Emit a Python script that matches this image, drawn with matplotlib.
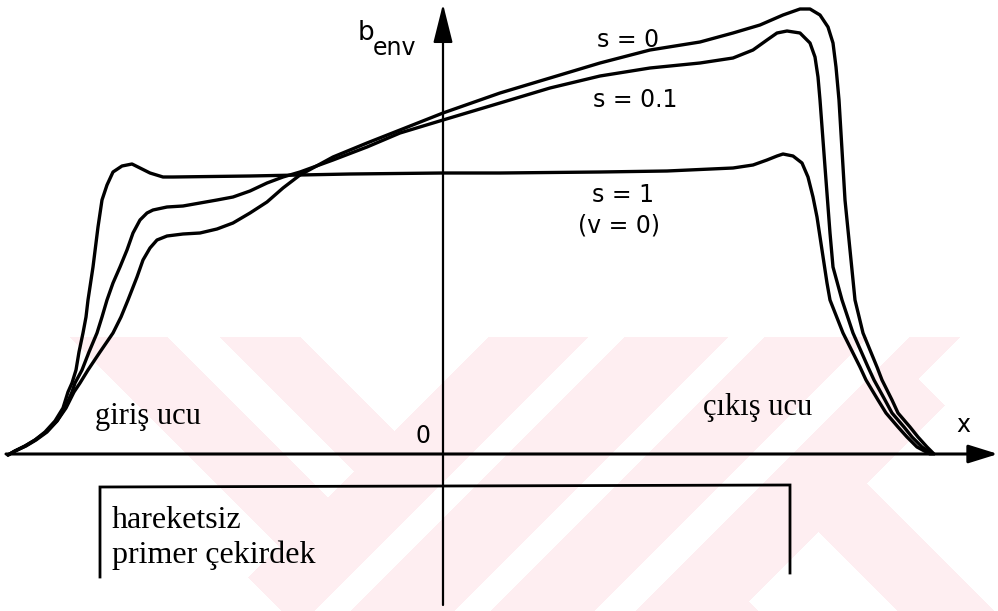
import matplotlib.pyplot as plt
import numpy as np

# envelope b_env along x for three slip values (origin at the axis crossing)
s0_x = [-435, -428, -418, -408, -397, -386, -377, -369, -363, -355, -343, -330, -322,
        -315, -306, -300, -293, -286, -276, -260, -243, -226, -210, -193, -176, -160,
        -143, -110, -76, -43, 0, 57, 107, 157, 207, 257, 290, 317, 340, 357, 367, 377,
        385, 390, 393, 396, 399, 402, 407, 412, 420, 434, 439, 449, 455, 467, 475, 484, 491]
s0_b = [0, 4, 9, 15, 23, 34, 47, 63, 72, 85, 103, 122, 138,
        155, 178, 195, 207, 215, 219, 221, 222, 226, 232, 242, 253, 267,
        280, 298, 312, 325, 342, 362, 377, 392, 405, 413, 422, 430, 440, 446, 446, 440,
        428, 412, 388, 355, 305, 255, 205, 155, 122, 88, 75, 55, 42, 28, 18, 8, 1]

s01_x = [-435, -428, -417, -407, -396, -386, -378, -371, -368, -361, -354, -346, -341,
         -336, -330, -323, -316, -310, -303, -296, -290, -276, -260, -243, -226, -210,
         -193, -176, -160, -143, -110, -76, -43, 0, 57, 107, 157, 207, 257, 290, 310,
         324, 334, 344, 357, 367, 372, 375, 377, 382, 387, 390, 399, 410, 425, 431, 442,
         449, 461, 469, 479, 489]
s01_b = [0, 4, 9, 15, 23, 34, 47, 63, 72, 85, 103, 122, 138,
         155, 172, 188, 205, 222, 235, 242, 245, 248, 249, 252, 255, 258,
         264, 272, 278, 283, 295, 308, 322, 335, 352, 367, 379, 387, 392, 397, 405,
         415, 422, 424, 422, 412, 398, 378, 355, 288, 222, 188, 155, 122, 88, 75, 55,
         42, 28, 18, 8, 1]

s1_x = [-435, -428, -418, -408, -398, -388, -380, -375, -371, -367, -364, -360, -357,
        -355, -350, -345, -341, -336, -330, -321, -311, -303, -293, -280, -270, -193,
        -93, 0, 57, 157, 224, 290, 310, 324, 334, 340, 350, 359, 365, 370, 374, 379,
        384, 387, 400, 417, 423, 435, 443, 455, 464, 474, 487]
s1_b = [0, 4, 9, 15, 23, 34, 47, 63, 72, 85, 103, 122, 138,
        155, 188, 228, 255, 270, 283, 289, 291, 287, 282, 278, 278, 279,
        281, 282, 282, 283, 284, 287, 290, 295, 299, 301, 299, 292, 278, 258, 238, 205,
        172, 155, 122, 88, 75, 55, 42, 28, 18, 8, 1]

curves = [(s0_x, s0_b), (s01_x, s01_b), (s1_x, s1_b)]

fig = plt.figure(figsize=(9.98, 6.11), dpi=100)

# pale pink diagonal stripe pattern behind the lower part of the figure
H, W = 611, 998
yy, xx = np.mgrid[0:H, 0:W]
u = xx + yy
d = xx - yy
left = u < 825
pink_left = left & (((d >= -267) & (d <= -170)) | ((d >= -117) & (d <= -37)))
right = (u >= 825) & (d > -330)
gaps = (((u >= 925) & (u <= 960)) | ((u >= 1065) & (u <= 1100))
        | ((u >= 1205) & (u <= 1245))
        | ((u >= 1350) & (d >= 148) & (d <= 286))
        | ((u >= 1350) & (d >= 384)) | ((u >= 1297) & (d >= 540)))
pink = (yy >= 337) & (pink_left | (right & ~gaps))
bg = np.ones((H, W, 3))
bg[pink] = np.array([254, 238, 241]) / 255
fig.figimage(bg, xo=0, yo=0, origin='upper', zorder=-1)

ax = fig.add_axes([0, 0, 1, 1])
ax.set_xlim(-443, 555)
ax.set_ylim(-156, 455)
ax.axis('off')

for x, b in curves:
    ax.plot(x, b, color='black', lw=2.4, solid_joinstyle='round', solid_capstyle='round')

# coordinate axes with arrow heads
ax.annotate('', xy=(555, 1), xytext=(-437, 1),
            arrowprops=dict(arrowstyle='-|>,head_length=0.9,head_width=0.28', color='black',
                            lw=2.2, mutation_scale=20, shrinkA=0, shrinkB=0))
ax.annotate('', xy=(0, 451), xytext=(0, -150),
            arrowprops=dict(arrowstyle='-|>,head_length=1.2,head_width=0.3', color='black',
                            lw=1.6, mutation_scale=20, shrinkA=0, shrinkB=0))

# bracket marking the primary core
ax.plot([-343, -343, 347, 347], [-122, -32, -30, -118], color='black', lw=2.0,
        solid_joinstyle='miter')

sans = 'DejaVu Sans'
serif = 'Liberation Serif'
ax.text(-85, 415, 'b', fontsize=19, family=sans, ha='left', va='baseline')
ax.text(-70, 400, 'env', fontsize=17, family=sans, ha='left', va='baseline')
ax.text(154, 408, 's = 0', fontsize=17, family=sans, ha='left', va='baseline')
ax.text(150, 348, 's = 0.1', fontsize=17, family=sans, ha='left', va='baseline')
ax.text(149, 253, 's = 1', fontsize=17, family=sans, ha='left', va='baseline')
ax.text(135, 222, '(v = 0)', fontsize=17, family=sans, ha='left', va='baseline')
ax.text(-20, 12, '0', fontsize=17, family=sans, ha='center', va='baseline')
ax.text(520, 23, 'x', fontsize=17, family=sans, ha='center', va='baseline')

ax.text(-348, 31, 'giriş ucu', fontsize=22, family=serif, ha='left', va='baseline')
ax.text(260, 40, 'çıkış ucu', fontsize=22, family=serif, ha='left', va='baseline')
ax.text(-331, -73, 'hareketsiz', fontsize=23, family=serif, ha='left', va='baseline')
ax.text(-331, -108, 'primer çekirdek', fontsize=23, family=serif, ha='left', va='baseline')

fig.savefig('out.png', dpi=100)
